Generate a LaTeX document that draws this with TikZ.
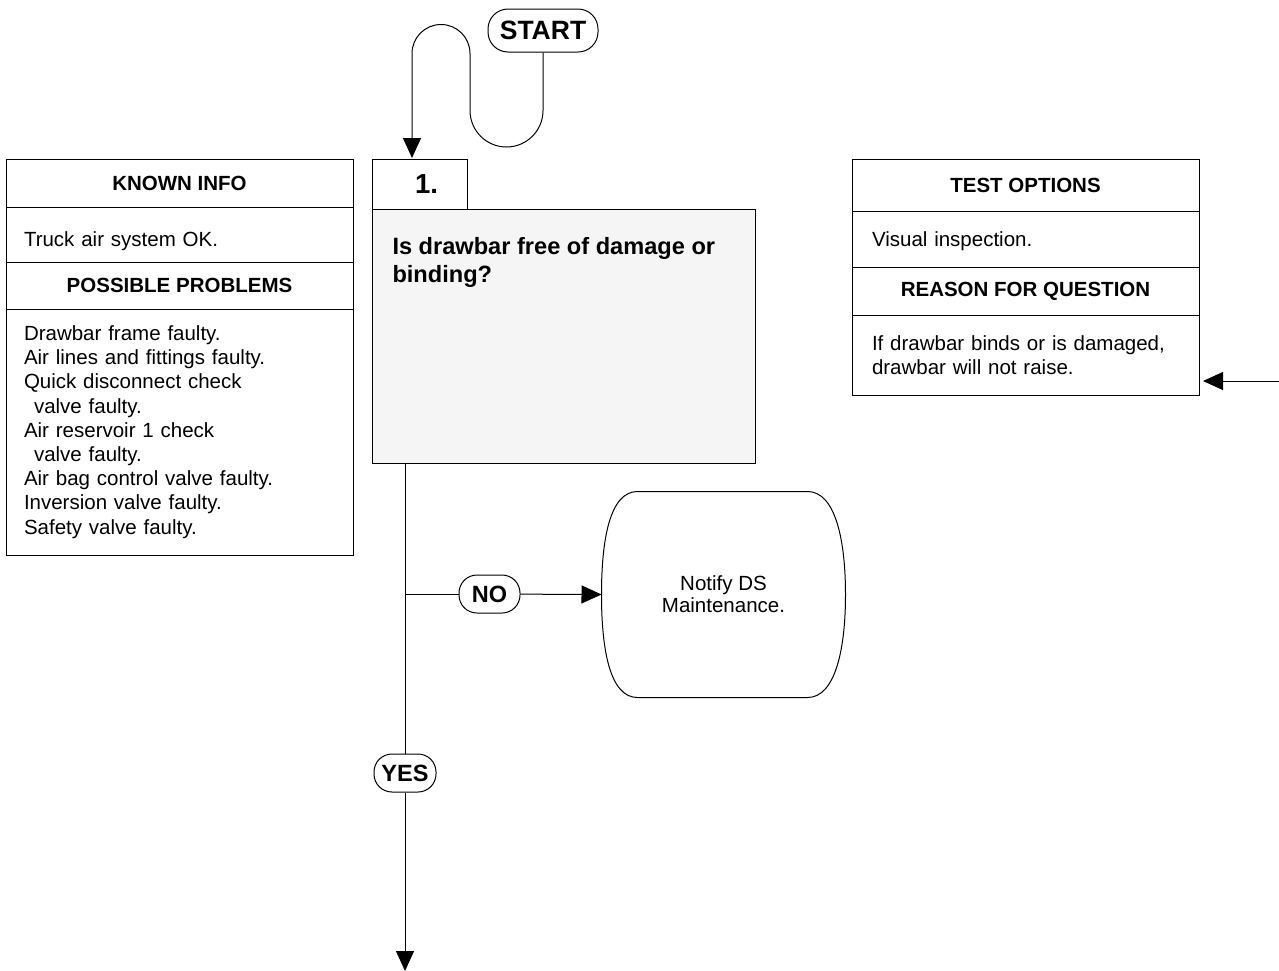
\documentclass[tikz,border=0pt]{standalone}
\usepackage{fontspec}
\setmainfont{Liberation Sans}
\usetikzlibrary{arrows.meta, positioning, calc}

\begin{document}
\begin{tikzpicture}[
    x=1pt, y=-1pt, line width=1pt,
    head/.style={
        rectangle, draw, outer sep=0pt, inner sep=0pt, minimum width=347pt,
        font=\fontsize{20.5}{23.3}\selectfont\bfseries
    },
    body/.style={
        rectangle, draw, outer sep=0pt, inner ysep=0pt, inner xsep=18pt,
        text width=311pt, align=left,
        font=\fontsize{20.5}{24.2}\selectfont
    },
    pill/.style={
        rectangle, draw, rounded corners=18pt, inner sep=0pt,
        font=\fontsize{23.5}{26}\selectfont\bfseries
    },
    conn/.style={-{Triangle[length=20pt, width=18pt]}},
]
\useasboundingbox (0,0) rectangle (1279,970);

% Known info / possible problems (left)
\node[head, minimum height=48pt, anchor=north west] (known) at (6,159) {KNOWN INFO};
\node[body, text height=39.7pt, text depth=15.3pt, below=0pt of known] (knowntxt) {Truck air system OK.};
\node[head, minimum height=47pt, below=0pt of knowntxt, yshift=0pt] (probs) {\raisebox{-1.5pt}{POSSIBLE PROBLEMS}};
\node[body, minimum height=246pt, below=0pt of probs] (probstxt) {Drawbar frame faulty.\\
    Air lines and fittings faulty.\\
    Quick disconnect check\\
    \hspace*{10pt}valve faulty.\\
    Air reservoir 1 check\\
    \hspace*{10pt}valve faulty.\\
    Air bag control valve faulty.\\
    Inversion valve faulty.\\
    Safety valve faulty.};

% Test options / reason for question (right)
\node[head, minimum height=52pt, anchor=north west] (tests) at (852,159) {TEST OPTIONS};
\node[body, text width=307pt, inner xsep=20pt, text height=35.7pt, text depth=20.3pt, below=0pt of tests] (teststxt) {Visual inspection.};
\node[head, minimum height=48pt, below=0pt of teststxt] (reason) {\raisebox{-2pt}{REASON FOR QUESTION}};
\node[body, text width=307pt, inner xsep=20pt, minimum height=80pt, below=0pt of reason] (reasontxt) {If drawbar binds or is damaged,\\drawbar will not raise.};

% Question 1
\node[draw, outer sep=0pt, minimum width=95pt, minimum height=50pt, anchor=north west,
    font=\fontsize{27.5}{30}\selectfont\bfseries] (qnum) at (372,159) {\hspace*{14pt}1.};
\node[draw, fill=black!4, outer sep=0pt, minimum width=383pt, minimum height=254pt,
    anchor=north west] (qbox) at (372,209) {};
\node[anchor=north west, inner sep=0pt, align=left,
    font=\fontsize{23.6}{28}\selectfont\bfseries] (qtext) at ($(qbox.north west)+(20,28)$)
    {Is drawbar free of damage or\\binding?};

% Start
\node[pill, rounded corners=20pt, minimum width=110pt, minimum height=43pt,
    font=\fontsize{26.5}{30}\selectfont\bfseries] (start) at (543,30.5) {\raisebox{-2pt}{START}};
\draw[conn] (start.south) -- ++(0,58) arc[start angle=0, end angle=180, radius=36.5]
    -- ++(0,-57) arc[start angle=0, end angle=-180, radius=29]
    -- ($(qnum.north west)+(40,-1)$);

% Notify DS maintenance (terminal)
\node[minimum width=243pt, minimum height=205pt, align=center,
    font=\fontsize{20.5}{22}\selectfont] (notify) at (723.5,594.5) {Notify DS\\Maintenance.};
\draw ($(notify.north west)+(36,0)$) -- ($(notify.north east)+(-38,0)$)
    .. controls ($(notify.north east)+(-10,0)$) and ($(notify.east)+(0,-54)$) .. (notify.east)
    .. controls ($(notify.east)+(0,54)$) and ($(notify.south east)+(-10,0)$) .. ($(notify.south east)+(-38,0)$)
    -- ($(notify.south west)+(36,0)$)
    .. controls ($(notify.south west)+(8,0)$) and ($(notify.west)+(0,54)$) .. (notify.west)
    .. controls ($(notify.west)+(0,-54)$) and ($(notify.north west)+(8,0)$) .. cycle;

% Yes / no branches
\coordinate (trunk) at ($(qbox.south west)+(33,0)$);
\node[pill, minimum width=61pt, minimum height=38pt] (no) at (489.5,594) {NO};
\node[pill, minimum width=62pt, minimum height=38pt] (yes) at (trunk |- 0,773) {YES};
\coordinate (nofork) at (trunk |- no);
\coordinate (trunkend) at (trunk |- 0,971);

\draw (trunk) -- (yes);
\draw[conn] (yes) -- (trunkend);
\draw (nofork) -- (no);
\draw[conn] (no) -- (notify.west);

% Incoming from the right
\coordinate (rout) at (1279,381);
\coordinate (rin) at (1203,381);
\draw[conn] (rout) -- (rin);

\end{tikzpicture}
\end{document}
